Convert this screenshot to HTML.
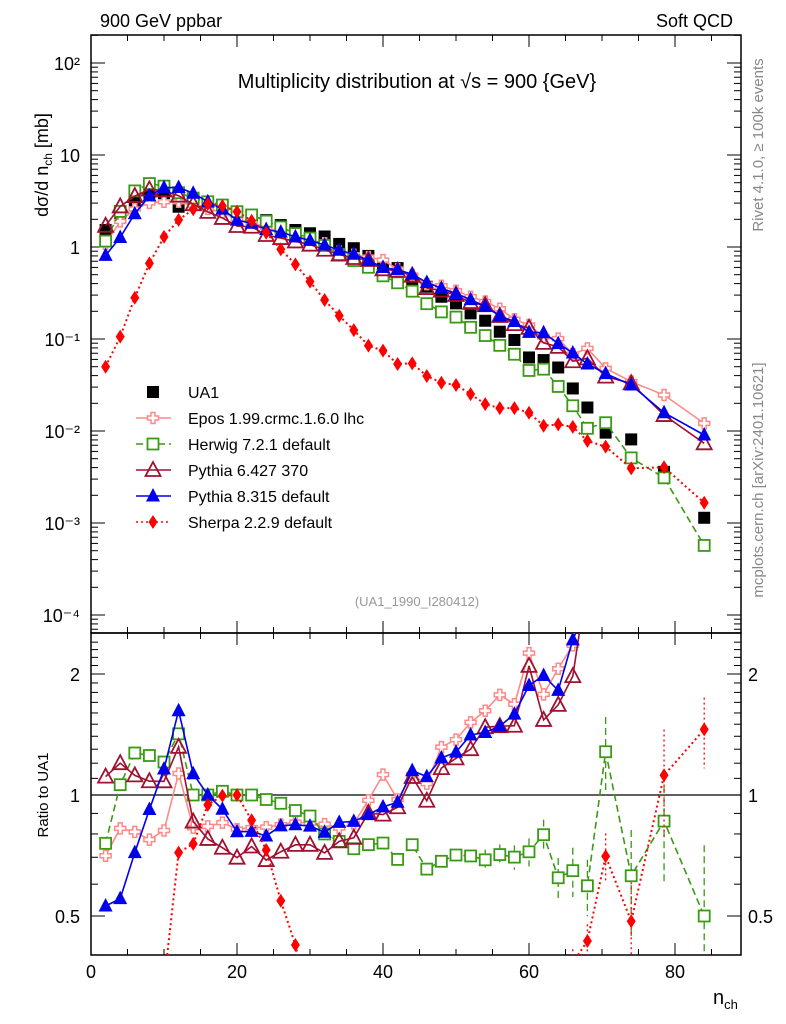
<!DOCTYPE html>
<html><head><meta charset="utf-8"><style>
html,body{margin:0;padding:0;background:#fff;width:786px;height:1024px;overflow:hidden}
svg{display:block;font-family:"Liberation Sans",sans-serif;overflow:hidden}
</style></head><body>
<svg id="c" width="786" height="1024" viewBox="0 0 786 1024">
<defs>
<clipPath id="mainClip"><rect x="91" y="35" width="650" height="598"/></clipPath>
<clipPath id="ratioClip"><rect x="91" y="633" width="650" height="322"/></clipPath>
</defs>
<g id="axes"></g>
<g id="marks"></g>
<text x="100" y="27" font-size="18">900 GeV ppbar</text>
<text x="733" y="27" font-size="18" text-anchor="end">Soft QCD</text>
<text x="417" y="88" font-size="20" text-anchor="middle">Multiplicity distribution at √s = 900 {GeV}</text>
<text x="417" y="606" font-size="13" fill="#999" text-anchor="middle">(UA1_1990_I280412)</text>
<text transform="translate(48,165) rotate(-90)" font-size="18" text-anchor="middle">dσ/d n<tspan font-size="12" dy="4">ch</tspan><tspan dy="-4"> [mb]</tspan></text>
<text transform="translate(48,795) rotate(-90)" font-size="15" text-anchor="middle">Ratio to UA1</text>
<text x="713" y="1004" font-size="20">n<tspan font-size="13" dy="5">ch</tspan></text>
<text transform="translate(763,145) rotate(-90)" font-size="15" fill="#888" text-anchor="middle">Rivet 4.1.0, ≥ 100k events</text>
<text transform="translate(763,480) rotate(-90)" font-size="15" fill="#888" text-anchor="middle">mcplots.cern.ch [arXiv:2401.10621]</text>
<g id="legend"></g>
</svg>
<script>
const nch=[2,4,6,8,10,12,14,16,18,20,22,24,26,28,30,32,34,36,38,40,42,44,46,48,50,52,54,56,58,60,62,64,66,68,70.5,74,78.5,84];
const ua1=[1.53,2.3,3.2,3.9,3.8,2.74,3.4,3.1,2.8,2.42,2.23,1.96,1.73,1.53,1.41,1.30,1.08,0.97,0.80,0.64,0.59,0.44,0.37,0.288,0.244,0.19,0.158,0.12,0.0975,0.063,0.059,0.049,0.029,0.018,0.0096,0.0081,0.0036,0.00114];
const epos=[1.08,1.90,2.59,3.02,3.10,3.10,2.82,2.59,2.39,1.99,1.85,1.63,1.46,1.31,1.20,1.10,0.894,0.824,0.776,0.719,0.575,0.494,0.395,0.379,0.335,0.288,0.256,0.213,0.164,0.142,0.105,0.101,0.0684,0.079,0.048,0.0344,0.0246,0.0121];
const herwig=[1.16,2.44,4.07,4.89,4.59,3.89,3.4,3.1,2.86,2.42,2.23,1.91,1.65,1.40,1.25,1.04,0.828,0.713,0.602,0.486,0.408,0.331,0.242,0.197,0.173,0.134,0.109,0.0853,0.0683,0.0455,0.047,0.0305,0.0188,0.0107,0.0123,0.0051,0.0031,0.00057];
const pythia6=[1.70,2.76,3.58,4.22,4.11,3.61,2.92,2.41,2.07,1.69,1.66,1.35,1.25,1.15,1.06,0.933,0.828,0.759,0.722,0.572,0.55,0.488,0.358,0.336,0.301,0.247,0.233,0.178,0.145,0.132,0.0907,0.0821,0.0573,0.0616,0.039,0.033,0.0149,0.00735];
const pythia8=[0.81,1.27,2.30,3.59,4.41,4.44,3.84,3.1,2.58,1.96,1.81,1.55,1.45,1.29,1.18,1.05,0.923,0.834,0.715,0.598,0.566,0.506,0.411,0.356,0.312,0.268,0.226,0.178,0.155,0.118,0.117,0.0892,0.0705,0.0535,0.042,0.0316,0.0158,0.00905];
const sherpa=[0.05,0.106,0.281,0.664,1.29,1.97,2.57,2.93,2.79,2.42,1.93,1.43,0.944,0.648,0.42,0.265,0.179,0.125,0.0847,0.0747,0.0535,0.0544,0.0396,0.0335,0.0316,0.0252,0.0196,0.0177,0.0177,0.0158,0.0114,0.0118,0.0111,0.0078,0.00676,0.00393,0.00403,0.00166];
const herwigErr=[0.02,0.02,0.02,0.02,0.02,0.02,0.02,0.02,0.02,0.02,0.02,0.02,0.02,0.02,0.02,0.02,0.02,0.02,0.02,0.02,0.02,0.03,0.04,0.04,0.05,0.05,0.06,0.06,0.07,0.08,0.09,0.12,0.14,0.16,0.22,0.3,0.3,0.5];
const sherpaErr=[0.02,0.02,0.02,0.02,0.02,0.02,0.02,0.02,0.02,0.02,0.02,0.02,0.02,0.02,0.02,0.02,0.02,0.02,0.02,0.02,0.03,0.03,0.03,0.04,0.04,0.04,0.05,0.05,0.05,0.06,0.07,0.07,0.08,0.1,0.14,0.25,0.3,0.2];
const xTicks=[0,20,40,60,80];
const yDecades=[-4,-3,-2,-1,0,1,2];
const yTickLabels=["10⁻⁴","10⁻³","10⁻²","10⁻¹","1","10","10²"];
const ratioTicks=[0.5,1,2];
const ratioTickLabels=["0.5","1","2"];

const NS="http://www.w3.org/2000/svg";
const X=n=>91+7.3*n;
const Y=v=>247-92*Math.log10(v);
const R=r=>795-121*Math.log2(r);
function mk(tag,attrs,parent){const e=document.createElementNS(NS,tag);for(const k in attrs)e.setAttribute(k,attrs[k]);parent.appendChild(e);return e;}
// clip a polyline (array of [x,y]) to y range, returning visible pieces
function clipPoly(pts,y0,y1){
 const pieces=[];let cur=[];
 for(let i=0;i<pts.length-1;i++){
  let [xa,ya]=pts[i],[xb,yb]=pts[i+1];
  let t0=0,t1=1;const dy=yb-ya;
  if(dy===0){if(ya<y0||ya>y1){t0=1;t1=0;}}
  else{let ta=(y0-ya)/dy,tb=(y1-ya)/dy;let lo=Math.min(ta,tb),hi=Math.max(ta,tb);t0=Math.max(0,lo);t1=Math.min(1,hi);}
  if(t0>t1){if(cur.length){pieces.push(cur);cur=[];}continue;}
  const p0=[xa+(xb-xa)*t0,ya+dy*t0],p1=[xa+(xb-xa)*t1,ya+dy*t1];
  if(!cur.length||t0>0)
   {if(cur.length)pieces.push(cur);cur=[p0];}
  cur.push(p1);
  if(t1<1){pieces.push(cur);cur=[];}
 }
 if(cur.length)pieces.push(cur);
 return pieces;
}
const axes=document.getElementById('axes');
const marks=document.getElementById('marks');
let f1=mk('rect',{x:91,y:35,width:650,height:598,fill:'none',stroke:'#000','stroke-width':1.5},axes);


let f2=mk('rect',{x:91,y:633,width:650,height:322,fill:'none',stroke:'#000','stroke-width':1.5},axes);


for(let n=0;n<=88;n+=5){const maj=n%20===0;const L=maj?12:6;const x=X(n);
 [[35,1],[633,-1],[633,1],[955,-1]].forEach(([y0,d])=>{mk('line',{x1:x,x2:x,y1:y0,y2:y0+d*L,stroke:'#000','stroke-width':1},axes);});}
xTicks.forEach(t=>{const e=mk('text',{x:X(t),y:978,'font-size':18,'text-anchor':'middle'},axes);e.textContent=t;
 
 });
for(let d=-5;d<=2;d++){for(let m=1;m<10;m++){const v=m*Math.pow(10,d);const y=Y(v);if(y<35||y>633)continue;const L=m===1?14:7;
 mk('line',{x1:91,x2:91+L,y1:y,y2:y,stroke:'#000'},axes);mk('line',{x1:741,x2:741-L,y1:y,y2:y,stroke:'#000'},axes);}}
yDecades.forEach((d,i)=>{const e=mk('text',{x:80,y:Y(Math.pow(10,d))+7,'font-size':18,'text-anchor':'end'},axes);e.textContent=yTickLabels[i];
 
 });
for(let r=0.4;r<=2.5;r+=0.1){const y=R(r);if(y<633||y>955)continue;const maj=Math.abs(r-0.5)<1e-6||Math.abs(r-1)<1e-6||Math.abs(r-2)<1e-6;const L=maj?14:7;
 mk('line',{x1:91,x2:91+L,y1:y,y2:y,stroke:'#000'},axes);mk('line',{x1:741,x2:741-L,y1:y,y2:y,stroke:'#000'},axes);}
ratioTicks.forEach((t,i)=>{[[80,'end'],[748,'start']].forEach(([x,a])=>{const e=mk('text',{x:x,y:R(t)+7,'font-size':18,'text-anchor':a},axes);e.textContent=ratioTickLabels[i];
 
 });});
mk('line',{x1:91,x2:741,y1:R(1),y2:R(1),stroke:'#000','stroke-width':1.2},axes);

function marker(type,color,x,y,parent,size){
 const s=size||1;let e;
 if(type==='sqf'){e=mk('rect',{x:x-6*s,y:y-6*s,width:12*s,height:12*s,fill:color},parent);}
 else if(type==='sqo'){e=mk('rect',{x:x-5.5*s,y:y-5.5*s,width:11*s,height:11*s,fill:'#fff',stroke:color,'stroke-width':1.8},parent);}
 else if(type==='trio'){e=mk('polygon',{points:`${x},${y-8*s} ${x-7.5*s},${y+6*s} ${x+7.5*s},${y+6*s}`,fill:'none',stroke:color,'stroke-width':1.8},parent);}
 else if(type==='trif'){e=mk('polygon',{points:`${x},${y-8*s} ${x-7*s},${y+5.5*s} ${x+7*s},${y+5.5*s}`,fill:color},parent);}
 else if(type==='dia'){e=mk('polygon',{points:`${x},${y-7*s} ${x-4.5*s},${y} ${x},${y+7*s} ${x+4.5*s},${y}`,fill:color},parent);}
 else if(type==='cross'){const a=2,b=5.5;e=mk('polygon',{points:`${x-a},${y-b} ${x+a},${y-b} ${x+a},${y-a} ${x+b},${y-a} ${x+b},${y+a} ${x+a},${y+a} ${x+a},${y+b} ${x-a},${y+b} ${x-a},${y+a} ${x-b},${y+a} ${x-b},${y-a} ${x-a},${y-a}`,fill:'#fff',stroke:color,'stroke-width':1.5},parent);}
 return e;
}
const series=[
 {name:'epos',label:'Epos 1.99.crmc.1.6.0 lhc',data:epos,color:'#ff8888',dash:'',m:'cross'},
 {name:'herwig',label:'Herwig 7.2.1 default',data:herwig,color:'#3a9a14',dash:'7,4',m:'sqo',err:herwigErr},
 {name:'pythia6',label:'Pythia 6.427 370',data:pythia6,color:'#a01030',dash:'',m:'trio'},
 {name:'pythia8',label:'Pythia 8.315 default',data:pythia8,color:'#0000ee',dash:'',m:'trif'},
 {name:'sherpa',label:'Sherpa 2.2.9 default',data:sherpa,color:'#ff0000',dash:'2,3',m:'dia',err:sherpaErr}
];
const gMain=mk('g',{'clip-path':'url(#mainClip)'},marks);
const gRatio=mk('g',{'clip-path':'url(#ratioClip)'},marks);
ua1.forEach((v,i)=>{const e=marker('sqf','#000',X(nch[i]),Y(v),gMain);
 
 });
const RMIN=633,RMAX=955;
series.forEach(s=>{
 const pts=s.data.map((v,i)=>X(nch[i])+','+Y(v)).join(' ');
 const l=mk('polyline',{points:pts,fill:'none',stroke:s.color,'stroke-width':s.name==='sherpa'?2:1.6,'stroke-dasharray':s.dash},gMain);
 
 
 const rpts=s.data.map((v,i)=>[X(nch[i]),R(v/ua1[i])]);
 clipPoly(rpts,RMIN,RMAX).forEach(piece=>{
  const rl=mk('polyline',{points:piece.map(p=>p[0]+','+p[1]).join(' '),fill:'none',stroke:s.color,'stroke-width':s.name==='sherpa'?2:1.6,'stroke-dasharray':s.dash},gRatio);
  
  
 });
 s.data.forEach((v,i)=>{
  const r=v/ua1[i];const ry=R(r);
  if(s.err){const e=s.err[i];if(e>0.05){const x=X(nch[i]);
   const ya=Math.max(RMIN,R(r*(1+e))),yb=Math.min(RMAX,R(Math.max(r*(1-e),0.01)));
   if(ya<yb)mk('line',{x1:x,x2:x,y1:ya,y2:yb,stroke:s.color,'stroke-width':1.3,'stroke-dasharray':s.dash},gRatio);}}
  const a=marker(s.m,s.color,X(nch[i]),Y(v),gMain);
  
  
  if(ry>RMIN-10&&ry<RMAX+10){
   const b=marker(s.m,s.color,X(nch[i]),ry,gRatio);
   
   
  }
 });
});
const lg=document.getElementById('legend');
let ly=392;
const ua=marker('sqf','#000',153,ly,lg);


let t0=mk('text',{x:188,y:ly+6,'font-size':16},lg);t0.textContent='UA1';


series.forEach((s,i)=>{const y=ly+26*(i+1);
 mk('line',{x1:136,x2:171,y1:y,y2:y,stroke:s.color,'stroke-width':1.6,'stroke-dasharray':s.dash},lg);
 const m=marker(s.m,s.color,153,y,lg);
 
 
 const t=mk('text',{x:188,y:y+6,'font-size':16},lg);t.textContent=s.label;
 
 
});
</script>
</body></html>
